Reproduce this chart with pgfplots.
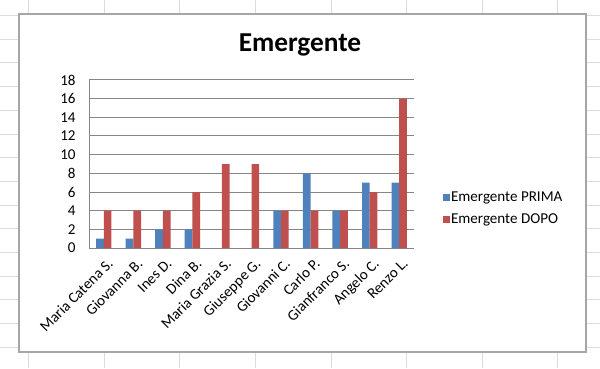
\documentclass[border=0pt]{standalone}
\usepackage{fontspec}
\setmainfont{Carlito}
\usepackage{pgfplots}
\pgfplotsset{compat=1.18}
\definecolor{xlblue}{HTML}{4F81BD}
\definecolor{xlred}{HTML}{C0504D}
\definecolor{xlgrid}{HTML}{868686}
\definecolor{xlframe}{HTML}{A6A6A6}
\definecolor{cellgrid}{HTML}{DADCDD}
\begin{document}
\begin{tikzpicture}
\useasboundingbox (0,0) rectangle (450pt,276pt);
\fill[white] (0,0) rectangle (450pt,276pt);
% spreadsheet cell grid
\foreach \cx in {21.5,78.2,134.9,191.6,248.3,305.0,361.7,418.4}
  \draw[cellgrid, line width=0.6pt] (\cx pt,0) -- (\cx pt,276pt);
\foreach \k in {0,...,15}
  \draw[cellgrid, line width=0.6pt] (0,{276pt-0.75*(15.5+23.7*\k)*1pt}) -- (450pt,{276pt-0.75*(15.5+23.7*\k)*1pt});
% chart area
\draw[xlframe, fill=white, line width=1.1pt] (14.25pt,12pt) rectangle (439.5pt,265.5pt);
\node[font=\bfseries\fontsize{20.5}{24}\selectfont, anchor=base] at (225pt,237.2pt) {Emergente};
\begin{axis}[
  at={(66.75pt,90pt)}, anchor=south west,
  scale only axis, width=243.75pt, height=126pt,
  ybar, bar width=0.26,
  xmin=-0.5, xmax=10.5, ymin=0, ymax=18,
  ytick={0,2,...,18},
  xtick={0,...,10},
  xticklabels={Maria Catena S.,Giovanna B.,Ines D.,Dina B.,Maria Grazia S.,Giuseppe G.,Giovanni C.,Carlo P.,Gianfranco S.,Angelo C.,Renzo L.},
  xticklabel style={rotate=45, anchor=north east, font=\fontsize{11.3}{13}\selectfont, xshift=0pt, yshift=-3pt},
  yticklabel style={font=\fontsize{11.3}{13}\selectfont, anchor=east, xshift=-6.5pt},
  /pgf/number format/assume math mode=true,
  major tick length=0pt,
  axis x line*=bottom, axis y line*=left,
  axis line style={xlgrid, line width=0.75pt, -},
  ymajorgrids, grid style={xlgrid, line width=0.75pt},
  legend style={draw=none, fill=none, at={(1.075,0.235)}, anchor=west,
    font=\fontsize{11.3}{13}\selectfont, row sep=6pt,
    nodes={inner sep=1pt}},
  legend cell align=left,
  legend image code/.code={\fill[#1] (0pt,-2.6pt) rectangle (5.3pt,2.6pt);},
]
\addplot[fill=xlblue, draw=none, bar shift=-0.13] coordinates {
  (0,1) (1,1) (2,2) (3,2) (4,0) (5,0) (6,4) (7,8) (8,4) (9,7) (10,7)};
\addplot[fill=xlred, draw=none, bar shift=0.13] coordinates {
  (0,4) (1,4) (2,4) (3,6) (4,9) (5,9) (6,4) (7,4) (8,4) (9,6) (10,16)};
\legend{Emergente PRIMA, Emergente DOPO}
\end{axis}
\end{tikzpicture}
\end{document}
